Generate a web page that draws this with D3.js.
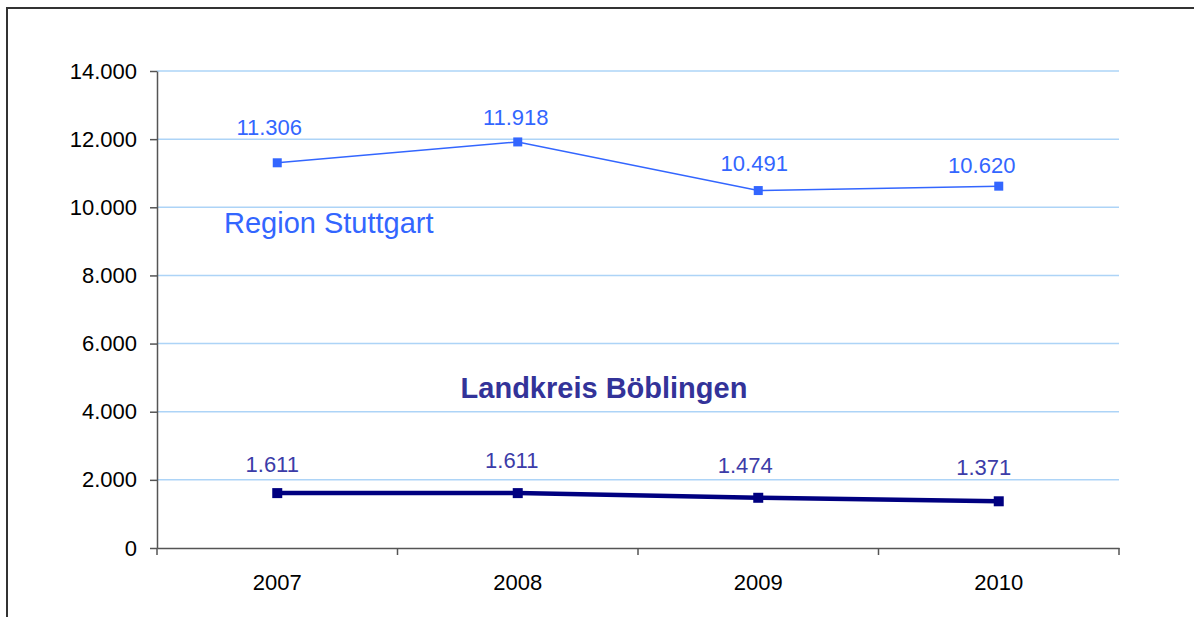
<!DOCTYPE html>
<html>
<head>
<meta charset="utf-8">
<script src="https://cdn.jsdelivr.net/npm/d3@7"></script>
<style>
  body { margin: 0; background: #fff; }
  text { font-family: "Liberation Sans", Arial, sans-serif; }
</style>
</head>
<body>
<svg width="1194" height="617"></svg>
<script>
var years = ["2007", "2008", "2009", "2010"],
    stuttgart = [11306, 11918, 10491, 10620],
    boeblingen = [1611, 1611, 1474, 1371],
    yTicks = [0, 2000, 4000, 6000, 8000, 10000, 12000, 14000];

// label nudges [dx, dy] relative to each point, as placed in the original
var stuttgartNudge = [[-8, -28], [-2, -17], [-4, -20], [-17, -13]],
    boeblingenNudge = [[-5, -21], [-6, -25], [-13, -25], [-15, -26]];

var svg = d3.select("svg"),
    margin = {top: 71, right: 75, bottom: 69, left: 157},
    width = +svg.attr("width"),
    height = +svg.attr("height");

var fmt = function(v) { return v === 0 ? "0" : d3.format(",")(v).replace(/,/g, "."); };

// frame
svg.append("rect")
    .attr("x", 7).attr("y", 8)
    .attr("width", 1200).attr("height", 620)
    .attr("fill", "none")
    .attr("stroke", "#333")
    .attr("stroke-width", 2);

var x = d3.scaleBand().domain(years).range([margin.left, width - margin.right]),
    y = d3.scaleLinear().domain([0, 14000]).range([height - margin.bottom, margin.top]);

var cx = function(d, i) { return x(years[i]) + x.bandwidth() / 2; };

// grid
svg.append("g")
    .selectAll("line")
    .data(yTicks.filter(function(d) { return d > 0; }))
    .enter().append("line")
      .attr("x1", margin.left)
      .attr("x2", width - margin.right)
      .attr("y1", function(d) { return y(d); })
      .attr("y2", function(d) { return y(d); })
      .attr("stroke", "#add4f7")
      .attr("stroke-width", 1.5);

// y axis
var yAxis = svg.append("g")
    .attr("transform", "translate(" + margin.left + ",0)")
    .call(d3.axisLeft(y).tickValues(yTicks).tickFormat(fmt).tickSize(7).tickSizeOuter(0));
yAxis.select(".domain").attr("stroke", "#555").attr("stroke-width", 1.5);
yAxis.selectAll(".tick line").attr("stroke", "#555").attr("stroke-width", 1.5);
yAxis.selectAll("text")
    .attr("font-family", "Liberation Sans, Arial, sans-serif")
    .attr("font-size", 22)
    .attr("fill", "#000")
    .attr("x", -20);

// x axis
var xAxis = svg.append("g")
    .attr("transform", "translate(0," + (height - margin.bottom) + ")")
    .call(d3.axisBottom(x).tickSize(0));
xAxis.select(".domain").attr("stroke", "#555").attr("stroke-width", 1.5);
xAxis.selectAll("text")
    .attr("font-family", "Liberation Sans, Arial, sans-serif")
    .attr("font-size", 22)
    .attr("fill", "#000")
    .attr("y", 42)
    .attr("dy", 0);

// x ticks at band edges
var edges = years.map(function(d) { return x(d); }).concat([width - margin.right]);
svg.append("g")
    .selectAll("line")
    .data(edges)
    .enter().append("line")
      .attr("x1", function(d) { return d; })
      .attr("x2", function(d) { return d; })
      .attr("y1", height - margin.bottom)
      .attr("y2", height - margin.bottom + 7)
      .attr("stroke", "#555")
      .attr("stroke-width", 1.5);

function drawSeries(data, nudge, color, lineWidth, markerSize, labelColor) {
  var line = d3.line()
      .x(cx)
      .y(function(d) { return y(d); });

  svg.append("path")
      .datum(data)
      .attr("fill", "none")
      .attr("stroke", color)
      .attr("stroke-width", lineWidth)
      .attr("d", line);

  svg.append("g")
    .selectAll("rect")
    .data(data)
    .enter().append("rect")
      .attr("x", function(d, i) { return cx(d, i) - markerSize / 2; })
      .attr("y", function(d) { return y(d) - markerSize / 2; })
      .attr("width", markerSize)
      .attr("height", markerSize)
      .attr("fill", color);

  svg.append("g")
    .selectAll("text")
    .data(data)
    .enter().append("text")
      .attr("x", function(d, i) { return cx(d, i) + nudge[i][0]; })
      .attr("y", function(d, i) { return y(d) + nudge[i][1]; })
      .attr("text-anchor", "middle")
      .attr("font-size", 22)
      .attr("fill", labelColor)
      .text(fmt);
}

drawSeries(stuttgart, stuttgartNudge, "#3366ff", 1.5, 9, "#3366ff");
drawSeries(boeblingen, boeblingenNudge, "#000080", 4.5, 10, "#3c3ca8");

svg.append("text")
    .attr("x", 224)
    .attr("y", 233)
    .attr("font-size", 29)
    .attr("fill", "#3366ff")
    .text("Region Stuttgart");

svg.append("text")
    .attr("x", 604)
    .attr("y", 398)
    .attr("text-anchor", "middle")
    .attr("font-size", 29)
    .attr("font-weight", "bold")
    .attr("fill", "#333399")
    .text("Landkreis Böblingen");
</script>
</body>
</html>
